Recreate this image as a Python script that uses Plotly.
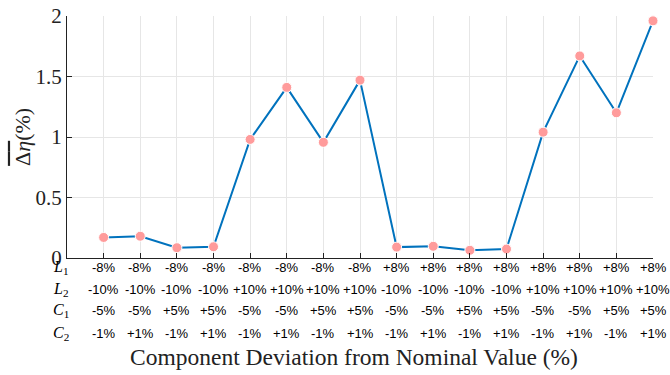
import plotly.graph_objects as go

positions = list(range(1, 17))
delta_eta = [0.17, 0.18, 0.085, 0.093, 0.98, 1.41, 0.956, 1.47,
             0.09, 0.097, 0.064, 0.074, 1.04, 1.67, 1.20, 1.96]

row_names = ["<i>L</i><sub>1</sub>", "<i>L</i><sub>2</sub>", "<i>C</i><sub>1</sub>", "<i>C</i><sub>2</sub>"]
L1 = ["-8%"] * 8 + ["+8%"] * 8
L2 = (["-10%"] * 4 + ["+10%"] * 4) * 2
C1 = (["-5%"] * 2 + ["+5%"] * 2) * 4
C2 = ["-1%", "+1%"] * 8
rows = [L1, L2, C1, C2]
row_y = [-0.041, -0.132, -0.219, -0.310]

y_ticks = [0, 0.5, 1, 1.5, 2]
y_ticktext = ["0", "0.5", "1", "1.5", "2"]

fig = go.Figure()
fig.add_trace(go.Scatter(
    x=positions, y=delta_eta, mode="lines+markers",
    line=dict(color="#0072BD", width=2),
    marker=dict(color="#FF9B9B", size=10, line=dict(color="white", width=1)),
    showlegend=False, cliponaxis=False,
))

annotations = []
for r, (name, vals, yy) in enumerate(zip(row_names, rows, row_y)):
    annotations.append(dict(
        x=-0.01, y=yy, xref="paper", yref="paper", text=name, showarrow=False,
        xanchor="center", yanchor="middle",
        font=dict(family="Liberation Serif", size=16, color="black"),
    ))
    for xi, v in zip(positions, vals):
        annotations.append(dict(
            x=xi, y=yy, xref="x", yref="paper", text=v, showarrow=False,
            xanchor="center", yanchor="middle",
            font=dict(family="Liberation Sans", size=13, color="black"),
        ))
annotations.append(dict(
    x=0.49, y=-0.409, xref="paper", yref="paper",
    text="Component Deviation from Nominal Value (%)", showarrow=False,
    xanchor="center", yanchor="middle",
    font=dict(family="Liberation Serif", size=23.5, color="#222"),
))
annotations.append(dict(
    x=-0.077, y=0.5, xref="paper", yref="paper",
    text="<span style=\"text-decoration:overline\">\u0394<i>\u03b7</i></span>(%)",
    showarrow=False, textangle=-90,
    xanchor="center", yanchor="middle",
    font=dict(family="Liberation Serif", size=22, color="#222"),
))

fig.update_layout(
    width=670, height=375,
    margin=dict(l=67, r=17, t=16, b=117, autoexpand=False),
    paper_bgcolor="white", plot_bgcolor="white",
    annotations=annotations,
    xaxis=dict(range=[0, 16], tickvals=positions, showticklabels=False,
               showgrid=True, gridcolor="#E6E6E6", gridwidth=1,
               ticks="inside", ticklen=5, tickcolor="#222", automargin=False,
               showline=True, linecolor="#222", linewidth=1.2, zeroline=False),
    yaxis=dict(range=[0, 2], tickvals=y_ticks, ticktext=y_ticktext,
               showgrid=True, gridcolor="#E6E6E6", gridwidth=1,
               ticks="inside", ticklen=5, tickcolor="#222", automargin=False,
               tickfont=dict(family="Liberation Serif", size=21, color="#222"),
               showline=True, linecolor="#222", linewidth=1.2, zeroline=False),
)

fig.write_html("out.html", config={"displayModeBar": False},
               post_script="document.body.style.margin='0';")
